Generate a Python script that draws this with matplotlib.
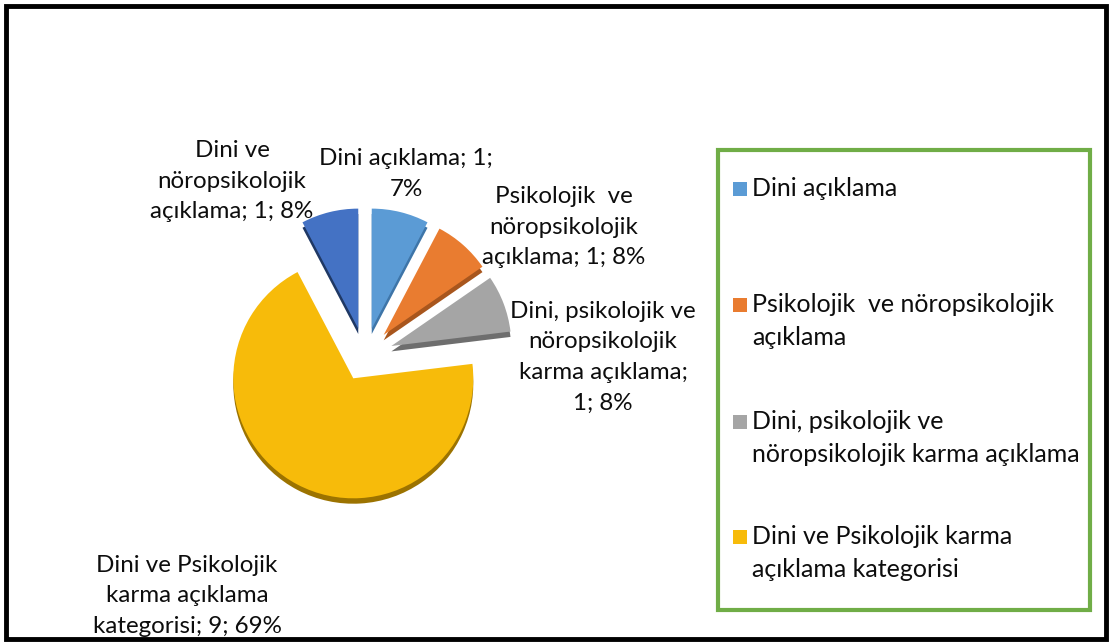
import matplotlib
matplotlib.use('Agg')
import matplotlib.pyplot as plt
from matplotlib.patches import Rectangle

plt.rcParams['font.family'] = ['Lato', 'DejaVu Sans']

# data
categories = ["Dini açıklama",
              "Psikolojik  ve nöropsikolojik açıklama",
              "Dini, psikolojik ve nöropsikolojik karma açıklama",
              "Dini ve Psikolojik karma açıklama kategorisi",
              "Dini ve nöropsikolojik açıklama"]
values = [1, 1, 1, 9, 1]
percents = [7, 8, 8, 69, 8]  # rounded the way Excel shows them
colors = ["#5B9BD5", "#E97C30", "#A5A5A5", "#F7BB0A", "#4472C4"]
side_colors = ["#3E75A8", "#A8561D", "#6E6E6E", "#9C7300", "#1F3864"]

# words per line for the wrapped texts
label_wrap = [[3, 1], [3, 1, 3], [3, 1, 2, 2], [3, 2, 3], [2, 1, 3]]
legend_wrap = [[2], [4, 1], [3, 3], [4, 2]]
n_legend = 4  # the fifth entry is cut off in the original

W, H = 1113, 642
fig = plt.figure(figsize=(W / 100, H / 100), dpi=100)


def px(x, y):
    return x / W, 1 - y / H


def wrap(text, counts):
    words = text.split(' ')
    lines, i = [], 0
    for c in counts:
        lines.append(' '.join(words[i:i + c]))
        i += c
    return lines


def put_lines(lines, x, y, ha, step=30.5, size=17.4):
    for k, line in enumerate(lines):
        fig.text(*px(x, y + k * step), line, ha=ha, va='baseline',
                 fontsize=size, color='#0d0d0d')


# pie (center ~ (365,356) px, radius 120 px)
ax = fig.add_axes([165 / W, (H - 556) / H, 400 / W, 400 / H])
lim = 200 / 120
explode = [0.235, 0.235, 0.235, 0.21, 0.235]
ax.pie(values, colors=side_colors, startangle=90, counterclock=False,
       explode=explode, center=(0, -0.045), radius=1)
ax.pie(values, colors=colors, startangle=90, counterclock=False,
       explode=explode, center=(0, 0), radius=1)
ax.set_xlim(-lim, lim)
ax.set_ylim(-lim, lim)
ax.set_aspect('equal')
ax.axis('off')

# data labels
label_pos = [(406, 165), (564, 203), (603, 318), (187, 572), (232, 157)]
for cat, v, p, counts, (x, y) in zip(categories, values, percents, label_wrap, label_pos):
    put_lines(wrap(f"{cat}; {v}; {p}%", counts), x, y, 'center')

# legend box
fig.patches.append(Rectangle(px(718, 610), 372 / W, 460 / H, transform=fig.transFigure,
                             fill=False, edgecolor='#70AD47', linewidth=3, joinstyle='miter'))
legend_y = [189, 305, 422, 537]
for i in range(n_legend):
    fig.patches.append(Rectangle(px(733, legend_y[i] + 7), 14 / W, 14 / H,
                                 transform=fig.transFigure, facecolor=colors[i],
                                 edgecolor='none'))
    put_lines(wrap(categories[i], legend_wrap[i]), 752, legend_y[i] + 7, 'left',
              step=33, size=18)

# outer frame
fig.patches.append(Rectangle(px(5.5, 638.5), 1100 / W, 633 / H, transform=fig.transFigure,
                             fill=False, edgecolor='black', linewidth=3.5, joinstyle='miter'))

fig.savefig('out.png', dpi=100)
